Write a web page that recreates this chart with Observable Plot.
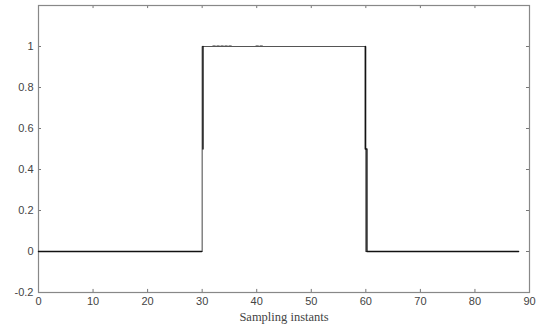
<!DOCTYPE html>
<html>
<head>
<meta charset="utf-8">
<script src="https://cdn.jsdelivr.net/npm/d3@7"></script>
<script src="https://cdn.jsdelivr.net/npm/@observablehq/plot@0.6"></script>
<style>
  html, body { margin: 0; padding: 0; background: #fff; }
  #chart svg { display: block; }
</style>
</head>
<body>
<div id="chart"></div>
<script>
// Setpoint (reference) step signal
const setX = [0, 30, 30, 60, 60, 88];
const setY = [0, 0, 1, 1, 0, 0];
// Response signal (overlapping, slightly lagged edges); null = break
const respX = [0, 29.9, null, 30.15, 30.15, null, 59.9, 59.9, 60.2, 60.2, 88];
const respY = [0, 0, null, 0.5, 1, null, 1, 0.5, 0.5, 0, 0];
// faint dotted marks along the top level
const dotX = [32, 35.3, null, 39.9, 41.2];
const dotY = [1.004, 1.004, null, 1.004, 1.004];

const xTicks = [0, 10, 20, 30, 40, 50, 60, 70, 80, 90];
const yTicks = [-0.2, 0, 0.2, 0.4, 0.6, 0.8, 1];
const yTickLabels = ["-0.2", "0", "0.2", "0.4", "0.6", "0.8", "1"];
const xLabel = "Sampling instants";

const toPts = (xs, ys) => xs.map((x, i) => ({x: x == null ? NaN : x, y: ys[i] == null ? NaN : ys[i]}));
const setData = toPts(setX, setY);
const respData = toPts(respX, respY);
const dotData = toPts(dotX, dotY);

const xmin = 0, xmax = 90, ymin = -0.2, ymax = 1.2;
const tx = 0.55, ty = 0.015; // tick lengths in data units (~3px)

const plot = Plot.plot({
  width: 536,
  height: 331,
  marginLeft: 38,
  marginRight: 7,
  marginTop: 5,
  marginBottom: 39,
  x: {domain: [xmin, xmax]},
  y: {domain: [ymin, ymax]},
  style: {fontFamily: "'Liberation Sans', Arial, sans-serif", fontSize: "11px", color: "#444", background: "#fff"},
  marks: [
    // inward ticks
    Plot.ruleX(xTicks, {x: d => d, y1: ymin, y2: ymin + ty, stroke: "#777"}),
    Plot.ruleX(xTicks, {x: d => d, y1: ymax, y2: ymax - ty, stroke: "#777"}),
    Plot.ruleY(yTicks, {y: d => d, x1: xmin, x2: xmin + tx, stroke: "#777"}),
    Plot.ruleY(yTicks, {y: d => d, x1: xmax, x2: xmax - tx, stroke: "#777"}),
    Plot.axisX(xTicks, {anchor: "bottom", tickSize: 0, tickPadding: 5, label: null, fill: "#444", fontSize: 11}),
    Plot.axisY(yTicks, {anchor: "left", tickSize: 0, tickPadding: 5, label: null, tickFormat: (d, i) => yTickLabels[yTicks.indexOf(d)], fill: "#444", fontSize: 11}),
    Plot.frame({stroke: "#888", strokeWidth: 1.2}),
    Plot.line(dotData, {x: "x", y: "y", stroke: "#999", strokeWidth: 1.5, strokeDasharray: "2,2"}),
    Plot.line(setData, {x: "x", y: "y", stroke: "#555", strokeWidth: 1.1}),
    Plot.line(respData, {x: "x", y: "y", stroke: "#111", strokeWidth: 1.4}),
    Plot.text([xLabel], {text: d => d, frameAnchor: "bottom", dy: 28, fontFamily: "'Liberation Serif', 'DejaVu Serif', serif", fontSize: 12.5, fill: "#444"})
  ]
});
document.getElementById("chart").appendChild(plot);
</script>
</body>
</html>
